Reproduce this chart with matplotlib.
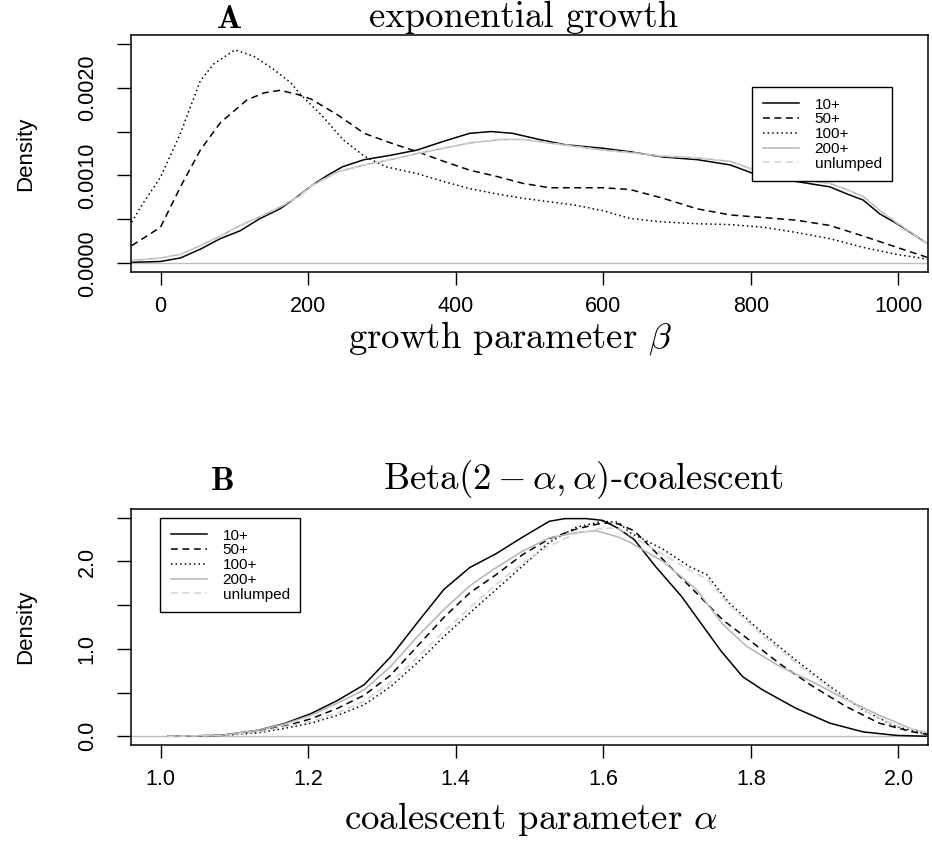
import matplotlib
matplotlib.use("Agg")
import matplotlib.pyplot as plt
from matplotlib.lines import Line2D

plt.rcParams["mathtext.fontset"] = "cm"
plt.rcParams["axes.formatter.use_mathtext"] = True

# ---------------- data: panel A (exponential growth) ----------------
beta_10 = [-39, 0, 27, 54, 81, 108, 135, 162, 189, 204, 226, 247, 276, 312, 348, 384, 419, 448,
           477, 513, 548, 599, 636, 681, 727, 772, 804, 826, 862, 907, 930, 952, 975, 998, 1040]
dens_10 = [0.00001, 0.00002, 0.00006, 0.00016, 0.00028, 0.00037, 0.00051, 0.00062, 0.00078, 0.00088,
           0.00100, 0.00110, 0.00118, 0.00123, 0.00129, 0.00139, 0.00148, 0.00150, 0.00148, 0.00141,
           0.00135, 0.00131, 0.00127, 0.00121, 0.00118, 0.00112, 0.00102, 0.00097, 0.00093, 0.00087,
           0.00079, 0.00072, 0.00056, 0.00045, 0.00022]

beta_50 = [-39, 0, 27, 54, 81, 99, 117, 140, 162, 187, 204, 240, 276, 312, 348, 384, 419, 455,
           491, 527, 563, 599, 636, 681, 727, 772, 817, 862, 907, 952, 998, 1040]
dens_50 = [0.00020, 0.00041, 0.00087, 0.00129, 0.00160, 0.00173, 0.00186, 0.00194, 0.00197, 0.00192,
           0.00187, 0.00169, 0.00148, 0.00137, 0.00127, 0.00116, 0.00106, 0.00099, 0.00091, 0.00086,
           0.00086, 0.00086, 0.00084, 0.00074, 0.00062, 0.00055, 0.00052, 0.00049, 0.00043, 0.00031,
           0.00018, 0.000064]

beta_100 = [-39, -27, 0, 27, 54, 72, 101, 126, 153, 176, 190, 219, 247, 276, 305, 348, 384, 419,
            455, 491, 527, 563, 599, 636, 681, 727, 772, 817, 862, 907, 952, 998, 1040]
dens_100 = [0.000468, 0.00064, 0.00098, 0.00148, 0.00208, 0.00227, 0.00243, 0.00236, 0.00221, 0.00206,
            0.00192, 0.00168, 0.00141, 0.00122, 0.00110, 0.00102, 0.00093, 0.00085, 0.00079, 0.00074,
            0.00070, 0.00066, 0.00060, 0.00051, 0.00047, 0.00045, 0.00044, 0.00041, 0.00035, 0.00028,
            0.00018, 0.00010, 0.000046]

beta_200 = [-39, 0, 27, 54, 81, 108, 135, 162, 189, 204, 240, 276, 312, 348, 384, 419, 462, 491,
            527, 599, 636, 681, 727, 772, 826, 862, 907, 930, 952, 975, 998, 1040]
dens_200 = [0.00003, 0.00006, 0.00010, 0.00020, 0.00031, 0.00043, 0.00053, 0.00064, 0.00077, 0.00088,
            0.00104, 0.00112, 0.00118, 0.00125, 0.00131, 0.00137, 0.00141, 0.00141, 0.00137, 0.00129,
            0.00126, 0.00122, 0.00120, 0.00116, 0.00100, 0.00096, 0.00091, 0.00084, 0.00076, 0.00060,
            0.00046, 0.00022]

beta_unl = beta_200
dens_unl = [0.00003, 0.00006, 0.00010, 0.00020, 0.00031, 0.00043, 0.00053, 0.00064, 0.00077, 0.00088,
            0.00104, 0.00112, 0.00118, 0.00125, 0.00131, 0.00137, 0.00141, 0.00141, 0.00137, 0.00129,
            0.00126, 0.00122, 0.00120, 0.00116, 0.00100, 0.00096, 0.00091, 0.00084, 0.00076, 0.00060,
            0.00046, 0.00022]

# ---------------- data: panel B (Beta-coalescent) ----------------
alpha_10 = [1.01, 1.082, 1.133, 1.168, 1.204, 1.240, 1.276, 1.312, 1.348, 1.384, 1.419, 1.455, 1.491,
            1.527, 1.548, 1.577, 1.599, 1.620, 1.642, 1.670, 1.706, 1.742, 1.760, 1.789, 1.816, 1.861,
            1.907, 1.952, 1.997, 2.04]
dB_10 = [0.0, 0.01, 0.07, 0.146, 0.26, 0.41, 0.59, 0.91, 1.30, 1.68, 1.93, 2.09, 2.28,
         2.46, 2.49, 2.49, 2.47, 2.38, 2.25, 1.95, 1.60, 1.18, 0.97, 0.68, 0.53, 0.32,
         0.15, 0.05, 0.01, 0.0]

alpha_50 = [1.01, 1.082, 1.133, 1.168, 1.204, 1.240, 1.276, 1.312, 1.348, 1.384, 1.419, 1.455, 1.491,
            1.527, 1.563, 1.599, 1.620, 1.642, 1.681, 1.726, 1.762, 1.798, 1.839, 1.884, 1.929, 1.974,
            2.019, 2.04]
dB_50 = [0.0, 0.01, 0.06, 0.115, 0.20, 0.32, 0.47, 0.70, 1.03, 1.36, 1.64, 1.85, 2.08,
         2.26, 2.37, 2.44, 2.43, 2.35, 2.02, 1.64, 1.33, 1.10, 0.83, 0.57, 0.34, 0.15,
         0.05, 0.02]

alpha_100 = [1.01, 1.082, 1.133, 1.168, 1.204, 1.240, 1.276, 1.312, 1.348, 1.384, 1.419, 1.455, 1.491,
             1.527, 1.563, 1.599, 1.620, 1.636, 1.681, 1.717, 1.740, 1.771, 1.816, 1.861, 1.907, 1.952,
             1.997, 2.04]
dB_100 = [0.0, 0.008, 0.04, 0.09, 0.15, 0.24, 0.36, 0.57, 0.84, 1.14, 1.41, 1.68, 1.95,
          2.22, 2.39, 2.46, 2.45, 2.33, 2.14, 1.94, 1.85, 1.52, 1.18, 0.87, 0.57, 0.30,
          0.11, 0.02]

alpha_200 = [1.01, 1.082, 1.133, 1.168, 1.204, 1.240, 1.276, 1.312, 1.348, 1.384, 1.419, 1.441, 1.455,
             1.491, 1.527, 1.563, 1.591, 1.620, 1.636, 1.681, 1.726, 1.762, 1.794, 1.839, 1.884, 1.929,
             1.974, 2.019, 2.04]
dB_200 = [0.0, 0.01, 0.07, 0.14, 0.24, 0.38, 0.53, 0.80, 1.14, 1.45, 1.72, 1.85, 1.93,
          2.12, 2.27, 2.33, 2.35, 2.28, 2.22, 2.00, 1.68, 1.28, 1.03, 0.80, 0.62, 0.42,
          0.24, 0.08, 0.04]

alpha_unl = [1.01, 1.082, 1.133, 1.204, 1.240, 1.276, 1.312, 1.348, 1.384, 1.419, 1.455, 1.491, 1.527,
             1.563, 1.599, 1.620, 1.681, 1.717, 1.740, 1.771, 1.816, 1.861, 1.907, 1.952, 1.997, 2.04]
dB_unl = [0.0, 0.008, 0.05, 0.17, 0.27, 0.40, 0.62, 0.90, 1.20, 1.47, 1.74, 1.98, 2.18,
          2.32, 2.38, 2.38, 2.08, 1.90, 1.80, 1.50, 1.15, 0.84, 0.55, 0.30, 0.12, 0.04]

series_labels = ["10+", "50+", "100+", "200+", "unlumped"]

# axis ticks
xticks_A = [0, 200, 400, 600, 800, 1000]
xticklabels_A = ["0", "200", "400", "600", "800", "1000"]
yticks_A = [0.0, 0.0005, 0.0010, 0.0015, 0.0020, 0.0025]
yticklabels_A = ["0.0000", "", "0.0010", "", "0.0020", ""]
xticks_B = [1.0, 1.2, 1.4, 1.6, 1.8, 2.0]
xticklabels_B = ["1.0", "1.2", "1.4", "1.6", "1.8", "2.0"]
yticks_B = [0.0, 0.5, 1.0, 1.5, 2.0, 2.5]
yticklabels_B = ["0.0", "", "1.0", "", "2.0", ""]

# ---------------- styling ----------------
styles = [
    dict(color="black", linestyle="-"),
    dict(color="black", linestyle=(0, (4.5, 3.0))),
    dict(color="black", linestyle=(0, (1.0, 2.0))),
    dict(color="#b4b4b4", linestyle="-"),
    dict(color="#d2d2d2", linestyle=(0, (4.5, 3.0))),
]
LW = 1.1
SANS = "Liberation Sans"
TICK_FS = 15.5

W, H = 932, 844
fig = plt.figure(figsize=(W / 100, H / 100), dpi=100)


def rect(x0, y0, x1, y1):
    return [x0 / W, 1 - y1 / H, (x1 - x0) / W, (y1 - y0) / H]


axA = fig.add_axes(rect(131, 35, 928, 272))
axB = fig.add_axes(rect(131, 509, 928, 745))

A_series = [(beta_10, dens_10), (beta_50, dens_50), (beta_100, dens_100),
            (beta_200, dens_200), (beta_unl, dens_unl)]
B_series = [(alpha_10, dB_10), (alpha_50, dB_50), (alpha_100, dB_100),
            (alpha_200, dB_200), (alpha_unl, dB_unl)]

for ax, series in ((axA, A_series), (axB, B_series)):
    ax.axhline(0, color="#bebebe", lw=1.0, zorder=1)
    for (xs, ys), st in zip(series, styles):
        ax.plot(xs, ys, lw=LW, zorder=2, **st)

axA.set_xlim(-40, 1040)
axA.set_ylim(-0.0001, 0.0026)
axB.set_xlim(0.96, 2.04)
axB.set_ylim(-0.1, 2.6)

for ax, xt, xtl, yt, ytl in ((axA, xticks_A, xticklabels_A, yticks_A, yticklabels_A),
                             (axB, xticks_B, xticklabels_B, yticks_B, yticklabels_B)):
    ax.set_xticks(xt)
    ax.set_xticklabels(xtl, fontfamily=SANS, fontsize=TICK_FS)
    ax.set_yticks(yt)
    ax.set_yticklabels(ytl, fontfamily=SANS, fontsize=TICK_FS, rotation=90, va="center")
    ax.tick_params(axis="x", direction="out", length=9.5, width=1.0, pad=8)
    ax.tick_params(axis="y", direction="out", length=10, width=1.0, pad=14)
    for sp in ax.spines.values():
        sp.set_linewidth(1.1)

# legends
handles = [Line2D([], [], lw=LW, **st) for st in styles]
leg_kw = dict(loc="upper left", bbox_transform=fig.transFigure,
              prop={"family": SANS, "size": 11}, frameon=True, fancybox=False,
              framealpha=1, edgecolor="black", borderaxespad=0, handlelength=2.4,
              handletextpad=1.0, labelspacing=0.05, borderpad=0.7)
legA = axA.legend(handles, series_labels, bbox_to_anchor=(752 / W, 1 - 87 / H), **leg_kw)
legA.get_frame().set_linewidth(1.0)
legB = axB.legend(handles, series_labels, bbox_to_anchor=(160 / W, 1 - 518 / H), **leg_kw)
legB.get_frame().set_linewidth(1.0)

# y labels
for yc in ((35 + 272) / 2, (509 + 745) / 2):
    fig.text(26 / W, 1 - yc / H, "Density", rotation=90, ha="center", va="center",
             fontfamily=SANS, fontsize=16)

# titles
fig.text(229 / W, 1 - 28 / H, "A", fontfamily="cmb10", fontsize=24, ha="center", va="baseline")
fig.text(524 / W, 1 - 27 / H, "exponential growth", fontfamily="cmr10", fontsize=26.5,
         ha="center", va="baseline")
fig.text(223 / W, 1 - 490 / H, "B", fontfamily="cmb10", fontsize=24, ha="center", va="baseline")
fig.text(583 / W, 1 - 489 / H, r"Beta$(2-\alpha,\alpha)$-coalescent", fontfamily="cmr10",
         fontsize=26.5, ha="center", va="baseline")

# x labels
fig.text(510 / W, 1 - 348 / H, r"growth parameter $\beta$", fontfamily="cmr10", fontsize=26.5,
         ha="center", va="baseline")
fig.text(531 / W, 1 - 829 / H, r"coalescent parameter $\alpha$", fontfamily="cmr10", fontsize=26.5,
         ha="center", va="baseline")

fig.savefig("out.png", dpi=100, facecolor="white")
